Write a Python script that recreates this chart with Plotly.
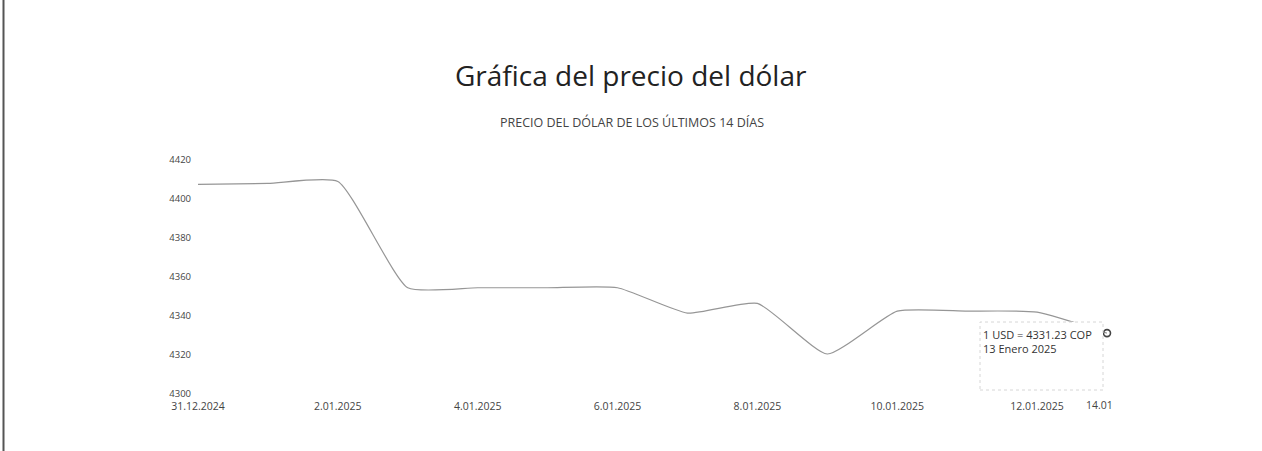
import plotly.graph_objects as go

dates = ["2024-12-31", "2025-01-01", "2025-01-02", "2025-01-03", "2025-01-04",
         "2025-01-05", "2025-01-06", "2025-01-07", "2025-01-08", "2025-01-09",
         "2025-01-10", "2025-01-11", "2025-01-12", "2025-01-13"]
prices = [4407.5, 4408.0, 4409.0, 4354.5, 4354.5, 4354.5, 4354.5,
          4341.5, 4346.5, 4320.5, 4342.5, 4342.5, 4342.0, 4331.23]

tick_vals = ["2024-12-31", "2025-01-02", "2025-01-04", "2025-01-06",
             "2025-01-08", "2025-01-10", "2025-01-12"]
tick_text = ["31.12.2024", "2.01.2025", "4.01.2025", "6.01.2025",
             "8.01.2025", "10.01.2025", "12.01.2025"]
y_ticks = [4300, 4320, 4340, 4360, 4380, 4400, 4420]

title_text = "Gráfica del precio del dólar"
subtitle_text = "PRECIO DEL DÓLAR DE LOS ÚLTIMOS 14 DÍAS"
tooltip_lines = ["1 USD = 4331.23 COP", "13 Enero 2025"]
extra_tick = "14.01"

W, H = 1262, 451
L, R, T, B = 198, 155, 160, 57
pw, ph = W - L - R, H - T - B

def px(x):
    return (x - L) / pw

def py(y):
    return (H - B - y) / ph

FONT = "Open Sans, Noto Sans, sans-serif"

fig = go.Figure()
fig.add_trace(go.Scatter(
    x=dates, y=prices, mode="lines",
    line=dict(shape="spline", smoothing=0.5, color="#969696", width=1.2),
    hoverinfo="skip", showlegend=False,
))
fig.add_trace(go.Scatter(
    x=[dates[-1]], y=[prices[-1]], mode="markers",
    marker=dict(symbol="circle-open", size=7, color="#444444", line=dict(width=1.6)),
    hoverinfo="skip", showlegend=False, cliponaxis=False,
))

fig.add_shape(type="rect", xref="paper", yref="paper",
              x0=px(980), x1=px(1103), y0=py(390), y1=py(322),
              line=dict(color="#d6d6d6", width=1, dash="dot"),
              fillcolor="white", layer="above")
fig.add_shape(type="line", xref="paper", yref="paper",
              x0=px(3.5), x1=px(3.5), y0=py(0), y1=py(451),
              line=dict(color="#555555", width=2))

fig.add_annotation(text=tooltip_lines[0] + "<br>" + tooltip_lines[1],
                   xref="paper", yref="paper", x=px(981), y=py(325),
                   xanchor="left", yanchor="top", align="left", showarrow=False,
                   font=dict(family=FONT, size=11, color="#333333"))
fig.add_annotation(text=title_text, xref="paper", yref="paper",
                   x=px(631), y=py(75), xanchor="center", yanchor="middle",
                   showarrow=False, font=dict(family=FONT, size=28, color="#222222"))
fig.add_annotation(text=subtitle_text, xref="paper", yref="paper",
                   x=px(632), y=py(123), xanchor="center", yanchor="middle",
                   showarrow=False, font=dict(family=FONT, size=12.5, color="#444444"))
fig.add_annotation(text=extra_tick, xref="paper", yref="paper",
                   x=px(1099), y=py(405), xanchor="center", yanchor="middle",
                   showarrow=False, font=dict(family=FONT, size=10.5, color="#444444"))

fig.update_layout(
    width=W, height=H, autosize=False,
    margin=dict(l=L, r=R, t=T, b=B, pad=0),
    paper_bgcolor="white", plot_bgcolor="white",
    showlegend=False,
    font=dict(family=FONT, size=10.5, color="#444444"),
)
fig.update_xaxes(type="date", range=[dates[0], dates[-1]],
                 tickvals=tick_vals, ticktext=tick_text,
                 showgrid=False, zeroline=False, showline=False, ticks="",
                 ticklabelstandoff=4,
                 tickfont=dict(family=FONT, size=10.5, color="#444444"))
fig.update_yaxes(range=[y_ticks[0], y_ticks[-1]], tickvals=y_ticks,
                 showgrid=False, zeroline=False, showline=False, ticks="",
                 ticklabelstandoff=6,
                 tickfont=dict(family=FONT, size=9.5, color="#444444"))

fig.write_html("out.html", config={"displayModeBar": False},
               post_script="document.body.style.margin='0';document.body.style.overflow='hidden';")
